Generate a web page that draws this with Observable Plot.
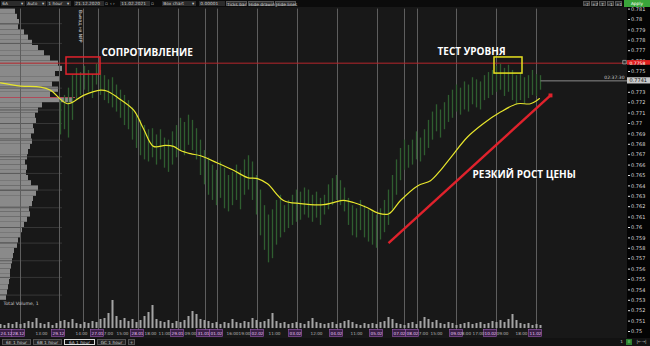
<!DOCTYPE html>
<html>
<head>
<meta charset="utf-8">
<script src="https://cdn.jsdelivr.net/npm/d3@7"></script>
<script src="https://cdn.jsdelivr.net/npm/@observablehq/plot@0.6"></script>
<style>
html,body{margin:0;padding:0;background:#181818;}
#root{position:relative;width:650px;height:346px;overflow:hidden;background:#181818;font-family:"DejaVu Sans",sans-serif;}
#root > div{position:absolute;}
#toolbar{left:0;top:0;width:650px;height:7px;background:#0b0b0b;}
#toolbar span{position:absolute;top:1px;height:5px;line-height:5px;font-size:4.3px;color:#d0d0d0;white-space:nowrap;}
#toolbar .fld{background:#2b2b2b;}
#toolbar .btn{background:#303030;box-sizing:border-box;border:0.5px solid #555;text-align:center;}
#toolbar .apply{top:0;height:7px;line-height:7px;background:#3aa63a;color:#fff;text-align:center;}
#axisbg{left:627px;top:7px;width:23px;height:331px;background:#040404;}
#tabs{left:0;top:338px;width:650px;height:8px;background:#121212;}
#tabs span{position:absolute;top:1px;height:5.5px;line-height:5.5px;font-size:4.3px;color:#ccc;box-sizing:border-box;border:0.6px solid #555;background:#262626;text-align:center;white-space:nowrap;}
.layer{position:absolute;left:0;}
.layer svg{display:block;}
</style>
</head>
<body>
<div id="root">
  <div id="axisbg"></div>
  <div id="toolbar">
    <span class="fld" style="left:1px;width:24px">&nbsp;6A</span><span style="left:21px">▾</span>
    <span class="fld" style="left:26px;width:20px">&nbsp;Auto</span><span style="left:42px">▾</span>
    <span class="fld" style="left:47px;width:24px">&nbsp;1 hour</span><span style="left:67px">▾</span>
    <span class="fld" style="left:74px;width:30px">&nbsp;21.12.2020</span><span style="left:105px">▫</span>
    <span style="left:110px">‹ ›</span>
    <span class="fld" style="left:120px;width:30px">&nbsp;11.02.2021</span><span style="left:151px">▫</span>
    <span class="fld" style="left:162px;width:34px">&nbsp;Box chart</span><span style="left:192px">▾</span>
    <span class="fld" style="left:199px;width:26px">&nbsp;0.00001</span>
    <span class="btn" style="left:226px;width:21px">Ticks bar</span>
    <span class="btn" style="left:248px;width:26px">Hide drawing</span>
    <span class="btn" style="left:275px;width:21px">Hide lines</span>
    <span class="btn" style="left:583px;width:7px">-7</span>
    <span class="btn" style="left:591px;width:7px">+7</span>
    <span class="btn" style="left:599px;width:7px">T</span>
    <span class="btn" style="left:607px;width:7px">-1</span>
    <span class="btn" style="left:615px;width:7px">+1</span>
    <span class="apply" style="left:624px;width:26px">Apply</span>
  </div>
  <div id="profile" class="layer" style="top:7px"></div>
  <div id="main" class="layer" style="top:7px"></div>
  <div id="vol" class="layer" style="top:296px"></div>
  <div id="dates" class="layer" style="top:328px"></div>
  <div id="tabs">
    <span style="left:2px;width:29px">6E 1 hour</span>
    <span style="left:33px;width:29px">6B 1 hour</span>
    <span style="left:64px;width:31px;border-color:#ddd;background:#111">6A 1 hour</span>
    <span style="left:97px;width:29px">GC 1 hour</span>
    <span style="left:128px;width:7px">+</span>
    <span style="left:619px;width:5px;border:none;background:none">1</span>
    <span style="left:626px;width:6px;border:none;background:#2e7d32;color:#9f9">⁞⁞</span>
    <span style="left:635px;width:13px;border:none;background:none">|←→|</span>
  </div>
</div>
<script>
// ---------- data ----------
// price axis ticks (0.774 sits under the last-price box and is not shown)
const priceTicks = [0.75,0.751,0.752,0.753,0.754,0.755,0.756,0.757,0.758,0.759,0.76,0.761,0.762,0.763,0.764,0.765,0.766,0.767,0.768,0.769,0.77,0.771,0.772,0.773,0.775,0.776,0.777,0.778,0.779,0.78,0.781];

const barHigh = [
 0.7722,0.7727,0.7734,0.7746,0.7753,0.7749,0.7755,0.7751,0.7747,0.7757,
 0.7751,0.7746,0.7742,0.7744,0.7737,0.7732,0.7727,0.7722,0.7715,0.7708,
 0.7703,0.7698,0.7694,0.7695,0.7689,0.7694,0.7686,0.7684,0.7692,0.7698,
 0.7705,0.7701,0.7708,0.7703,0.7695,0.7684,0.7674,0.7667,0.7660,0.7655,
 0.7663,0.7657,0.7650,0.7653,0.7660,0.7655,0.7665,0.7669,0.7663,0.7650,
 0.7636,0.7621,0.7612,0.7617,0.7626,0.7631,0.7621,0.7626,0.7631,0.7636,
 0.7634,0.7638,0.7636,0.7631,0.7634,0.7628,0.7631,0.7641,0.7647,0.7650,
 0.7645,0.7638,0.7628,0.7621,0.7618,0.7626,0.7621,0.7617,0.7615,0.7612,
 0.7618,0.7626,0.7636,0.7650,0.7665,0.7676,0.7684,0.7679,0.7684,0.7692,
 0.7686,0.7694,0.7703,0.7711,0.7718,0.7713,0.7720,0.7727,0.7732,0.7737,
 0.7734,0.7740,0.7737,0.7744,0.7742,0.7740,0.7746,0.7749,0.7751,0.7755,
 0.7757,0.7753,0.7756,0.7751,0.7746,0.7749,0.7744,0.7746,0.7751,0.7747,
 0.7746];
const barLow = [
 0.7689,0.7694,0.7686,0.7703,0.7722,0.7727,0.7732,0.7730,0.7724,0.7737,
 0.7727,0.7722,0.7719,0.7715,0.7711,0.7705,0.7698,0.7694,0.7684,0.7676,
 0.7669,0.7665,0.7663,0.7667,0.7660,0.7665,0.7657,0.7653,0.7660,0.7667,
 0.7674,0.7669,0.7679,0.7674,0.7665,0.7650,0.7641,0.7631,0.7626,0.7621,
 0.7628,0.7618,0.7615,0.7621,0.7626,0.7617,0.7631,0.7636,0.7626,0.7612,
 0.7592,0.7578,0.7566,0.7570,0.7583,0.7590,0.7595,0.7599,0.7602,0.7605,
 0.7607,0.7612,0.7609,0.7605,0.7609,0.7602,0.7612,0.7617,0.7621,0.7626,
 0.7621,0.7615,0.7602,0.7592,0.7590,0.7597,0.7590,0.7586,0.7583,0.7580,
 0.7588,0.7595,0.7602,0.7617,0.7631,0.7645,0.7655,0.7657,0.7660,0.7665,
 0.7663,0.7669,0.7676,0.7684,0.7692,0.7686,0.7694,0.7701,0.7705,0.7711,
 0.7708,0.7713,0.7711,0.7718,0.7715,0.7713,0.7722,0.7724,0.7727,0.7730,
 0.7732,0.7726,0.7730,0.7722,0.7718,0.7722,0.7719,0.7724,0.7727,0.7726,
 0.7732];

const maIndex = [-15,-10,-5,-2.5,1.75,5.75,10,11.75,14.25,18.25,20.75,23.25,26.25,28.25,30,32.5,35,39.25,43.25,46.75,49.25,51.75,55.75,60,65.75,68.25,70.75,73.25,76.75,79.25,82,85,89.25,92.5,95,97.5,101.75,105.75,110,114.25,117.5,119.75];
const maPrice = [0.7739,0.7736,0.7735,0.7732,0.7719,0.7727,0.7732,0.7731,0.7725,0.7713,0.7695,0.7678,0.7679,0.7678,0.7674,0.7671,0.7669,0.7662,0.7655,0.7648,0.7647,0.7642,0.7626,0.7623,0.7622,0.7624,0.7626,0.7624,0.7619,0.7614,0.7613,0.7626,0.7640,0.7645,0.7655,0.7667,0.7687,0.7700,0.7711,0.7719,0.7719,0.7724];

const volume = [
 4,3,5,4,6,4,5,7,6,10,
 5,4,6,3,5,7,8,6,9,5,
 4,6,5,7,6,9,10,15,28,12,
 8,10,7,9,6,8,12,16,23,9,
 7,6,8,5,7,6,8,12,17,14,
 9,8,7,5,6,4,6,5,9,6,
 5,7,6,10,8,6,7,9,15,7,
 5,6,4,5,6,5,4,7,10,6,
 5,4,5,6,4,5,7,8,6,4,
 3,5,4,5,4,6,7,11,9,5,
 4,3,5,6,4,7,11,9,6,8,
 5,4,6,5,3,4,5,6,4,5,
 6,4,5,7,6,8,6,9,14,8,
 5,4,5,3,4,3];

const profilePrice = [
 0.7805,0.7800,0.7795,0.7790,0.7785,0.7780,0.7775,0.7770,0.7765,0.7760,
 0.7755,0.7750,0.7745,0.7740,0.7735,0.7730,0.7725,0.7720,0.7715,0.7710,
 0.7705,0.7700,0.7695,0.7690,0.7685,0.7680,0.7675,0.7670,0.7665,0.7660,
 0.7655,0.7650,0.7645,0.7640,0.7635,0.7630,0.7625,0.7620,0.7615,0.7610,
 0.7605,0.7600,0.7595,0.7590,0.7585,0.7580,0.7575,0.7570,0.7565,0.7560,
 0.7555,0.7550,0.7545,0.7540,0.7535,0.7530];
const profileVolume = [
 15,17,19,18,24,28,32,38,44,50,
 58,62,55,60,52,58,50,72,42,38,
 35,36,33,34,31,32,30,28,27,25,
 27,26,28,31,38,36,33,32,29,30,
 27,24,22,20,18,17,14,13,12,11,
 10,10,9,8,7,6];
const profileLevels = [0.7796,0.7777,0.7734,0.7713,0.7700,0.7684,0.7668,0.7652,0.7636,0.7619,0.7600,0.7585,0.7568,0.7552,0.7535];
const pocPrice = 0.7725;

const gridIndex = [-10,-0.25,5.75,9.5,19.5,29.5,36.25,39.25,49.25,59.25,69.25,79.25,86,89.25,99,109,119];

const dateIndex = [-13.5,-10.5,-4.75,-0.5,5.25,9.25,12,15.5,19.25,22.5,26,29.25,32.5,35.75,39,43,46,49.25,53.5,58.75,64,69,74,79,84.75,88,90.75,94,99,101.5,104.5,107.5,110.5,115.25,118.75];
const dateText = ["24.12","28.12","13:00","29.12","14:00","27.01","7:00","15:00","28.01","18:00","11:00","29.01","09:00","31.01","01.02","16:00","19:00","02.02","11:00","03.02","12:00","04.02","11:00","05.02","07.02","08.02","7:00","15:00","09.02","8:00","17:00","10.02","09:00","18:00","11.02"];

const resistancePrice = 0.7758;
const lastPrice = 0.7741;
const lastTime = "02:37:30";
const eventNote = "Выход на NFP";
const resistBox = {i1: 1.5, i2: 10, p1: 0.7747, p2: 0.77635};
const testBox = {i1: 108.5, i2: 115.5, p1: 0.7748, p2: 0.77635};
const arrow = {i1: 82, p1: 0.7585, i2: 122.5, p2: 0.7727};
const labels = [
  {i: 10.25, p: 0.7768, text: "СОПРОТИВЛЕНИЕ"},
  {i: 94.25, p: 0.7769, text: "ТЕСТ УРОВНЯ"},
  {i: 103, p: 0.7651, text: "РЕЗКИЙ РОСТ ЦЕНЫ"}
];

// ---------- derived tables ----------
const bars = barHigh.map((h, k) => ({i: k, high: h, low: barLow[k]}));
const ma = maIndex.map((i, k) => ({i, p: maPrice[k]}));
const vols = volume.map((v, k) => ({i: k - 15, v}));
const profile = profilePrice.map((p, k) => ({p, w: profileVolume[k]}));
const dates = dateIndex.map((i, k) => ({i, t: dateText[k], boxed: dateText[k].indexOf(".") > 0}));

const W = 650, H = 331;
const xDomain = [-15, 141.75];
const yDomain = [0.75, 0.781];
const font = "DejaVu Sans, sans-serif";

// ---------- volume profile layer ----------
const profilePlot = Plot.plot({
  width: W, height: H, marginLeft: 0, marginRight: 23, marginTop: 1.6, marginBottom: 7,
  style: {background: "transparent"},
  x: {domain: [0, 627], axis: null},
  y: {domain: yDomain, axis: null},
  marks: [
    Plot.rectX(profile, {x1: 0, x2: "w", y1: "p", y2: d => d.p + 0.0005, fill: "#8a8a8a"}),
    Plot.ruleY(profileLevels, {x1: 0, x2: 62, stroke: "#444", strokeWidth: 0.7}),
    Plot.ruleY([pocPrice], {x1: 0, x2: 75, stroke: "#b04a5a", strokeWidth: 1})
  ]
});
document.getElementById("profile").appendChild(profilePlot);

// ---------- main price layer ----------
const mainPlot = Plot.plot({
  width: W, height: H, marginLeft: 0, marginRight: 23, marginTop: 1.6, marginBottom: 7,
  style: {background: "transparent", color: "#dcdcdc", fontSize: "5px", fontFamily: font},
  x: {domain: xDomain, axis: null},
  y: {domain: yDomain, axis: "right", ticks: priceTicks, tickFormat: d3.format(".3~f"), tickSize: 2, tickPadding: 1.5, label: null},
  marks: [
    Plot.ruleX(gridIndex, {stroke: "#5e5e5e", strokeWidth: 1}),
    Plot.ruleY([resistancePrice], {stroke: "#b5252b", strokeWidth: 1}),
    Plot.ruleX(bars, {x: "i", y1: "low", y2: "high", stroke: "#2f5e30", strokeWidth: 1.3}),
    Plot.line(ma, {x: "i", y: "p", stroke: "#e8e62c", strokeWidth: 1.2, curve: "catmull-rom"}),
    Plot.link([lastPrice], {x1: 120, x2: 141.75, y1: d => d, y2: d => d, stroke: "#8c8c8c", strokeWidth: 1}),
    Plot.text([lastTime], {x: 141, y: lastPrice + 0.0003, textAnchor: "end", fill: "#cfcfcf", fontSize: 4.5}),
    Plot.rect([resistBox], {x1: "i1", x2: "i2", y1: "p1", y2: "p2", fill: "none", stroke: "#e0222c", strokeWidth: 1.5}),
    Plot.rect([testBox], {x1: "i1", x2: "i2", y1: "p1", y2: "p2", fill: "none", stroke: "#e6e020", strokeWidth: 1.5}),
    Plot.link([arrow], {x1: "i1", y1: "p1", x2: "i2", y2: "p2", stroke: "#e0222c", strokeWidth: 2.4}),
    Plot.dot([arrow], {x: "i2", y: "p2", symbol: "square", r: 2.2, fill: "#e0222c"}),
    Plot.text(labels, {x: "i", y: "p", text: "text", textAnchor: "start", fill: "#ffffff", fontSize: 10, fontWeight: "bold", fontFamily: "Open Sans, DejaVu Sans, sans-serif"}),
    Plot.text([eventNote], {x: 5.5, frameAnchor: "top", rotate: 90, textAnchor: "start", fill: "#e0e0e0", fontSize: 4.5, dy: 1}),
    // price labels on the axis
    Plot.rect([resistancePrice], {x1: 141.75, x2: 147.5, y1: d => d - 0.0002, y2: d => d + 0.00025, fill: "#e01e1e"}),
    Plot.text([resistancePrice], {x: 141.75, y: d => d, text: d => d.toFixed(4), dx: 2, textAnchor: "start", fill: "#ffffff", fontSize: 4.5}),
    Plot.rect([lastPrice], {x1: 141.75, x2: 147.5, y1: d => d - 0.0003, y2: d => d + 0.0003, fill: "#c8c8c8"}),
    Plot.text([lastPrice], {x: 141.75, y: d => d, text: d => d.toFixed(4), dx: 2, textAnchor: "start", fill: "#111111", fontSize: 5}),
    Plot.dot([resistancePrice], {x: 141, y: d => d + 0.0001, symbol: "square", r: 2, fill: "#333", stroke: "#cccccc", strokeWidth: 0.6})
  ]
});
document.getElementById("main").appendChild(mainPlot);

// ---------- volume layer ----------
const volPlot = Plot.plot({
  width: W, height: 33, marginLeft: 0, marginRight: 23, marginTop: 0, marginBottom: 1,
  style: {background: "transparent", fontFamily: font},
  x: {domain: xDomain, axis: null},
  y: {domain: [0, 32], axis: null},
  marks: [
    Plot.ruleX(vols, {x: "i", y1: 0, y2: "v", stroke: "#a4a4a4", strokeWidth: 2}),
    Plot.text(["Total Volume, 1"], {frameAnchor: "top-left", dx: 3, dy: 5, fill: "#d0d0d0", fontSize: 4.6})
  ]
});
document.getElementById("vol").appendChild(volPlot);

// ---------- date label row ----------
const datePlot = Plot.plot({
  width: W, height: 10, marginLeft: 0, marginRight: 23, marginTop: 1.5, marginBottom: 1.5,
  style: {background: "transparent", fontFamily: font},
  x: {domain: xDomain, axis: null},
  marks: [
    Plot.rect(dates.filter(d => d.boxed), {x1: d => d.i - 1.6, x2: d => d.i + 1.6, fill: "#3a1f46", stroke: "#9a58b4", strokeWidth: 0.6}),
    Plot.text(dates, {x: "i", text: "t", frameAnchor: "middle", fill: d => d.boxed ? "#e2c4f0" : "#b4b4b4", fontSize: 4.2})
  ]
});
document.getElementById("dates").appendChild(datePlot);
</script>
</body>
</html>
